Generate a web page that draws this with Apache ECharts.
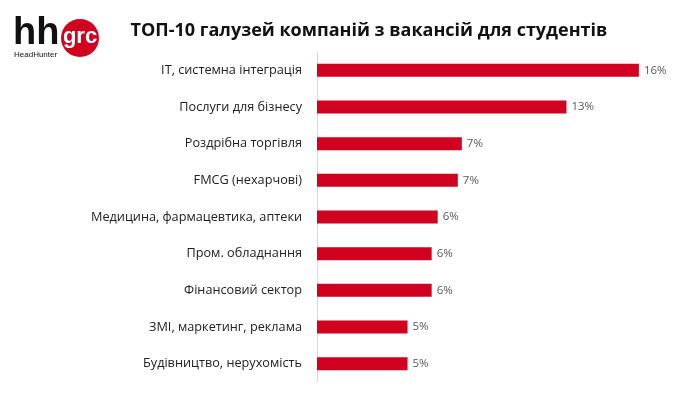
<!DOCTYPE html>
<html><head><meta charset="utf-8">
<script src="https://cdn.jsdelivr.net/npm/echarts@6/dist/echarts.min.js"></script>
<style>html,body{margin:0;padding:0;background:#fff}#c{width:700px;height:394px}</style>
</head><body><div id="c"></div>
<script>
var categories = ['IT, системна інтеграція','Послуги для бізнесу','Роздрібна торгівля','FMCG (нехарчові)','Медицина, фармацевтика, аптеки','Пром. обладнання','Фінансовий сектор','ЗМІ, маркетинг, реклама','Будівництво, нерухомість'];
var values = [16.0, 12.4, 7.2, 7.0, 6.0, 5.7, 5.7, 4.5, 4.5];
var labels = ['16%','13%','7%','7%','6%','6%','6%','5%','5%'];
var chart = echarts.init(document.getElementById('c'));
chart.setOption({
  animation:false,
  title:{text:'ТОП-10 галузей компаній з вакансій для студентів',left:364,textAlign:'center',top:17,
    textStyle:{fontFamily:'Open Sans',fontWeight:'bold',fontSize:18,color:'#111'}},
  grid:{left:317,top:52,width:342,bottom:12},
  xAxis:{type:'value',min:0,max:17,show:false},
  yAxis:{type:'category',data:categories,inverse:true,
    axisLine:{lineStyle:{color:'#d9d9d9'}},axisTick:{show:false},
    axisLabel:{margin:15,fontFamily:'Open Sans',fontSize:12.7,color:'#222'}},
  series:[{type:'bar',data:values,barWidth:13,itemStyle:{color:'#d0021f'},
    label:{show:true,position:'right',distance:5,fontFamily:'Open Sans',fontSize:11.5,color:'#595959',
      formatter:function(p){return labels[p.dataIndex];}}}],
  graphic:[
    {type:'text',left:13,top:15,style:{text:'hh',font:'bold 38px Liberation Sans',fill:'#111'}},
    {type:'circle',shape:{cx:80,cy:38,r:19},style:{fill:'#d0021f'}},
    {type:'text',x:80,y:37,style:{text:'grc',font:'bold 22px Liberation Sans',fill:'#fff',align:'center',verticalAlign:'middle'}},
    {type:'text',left:14,top:51,style:{text:'HeadHunter',font:'8px Liberation Sans',fill:'#111'}}
  ]
});
</script></body></html>
